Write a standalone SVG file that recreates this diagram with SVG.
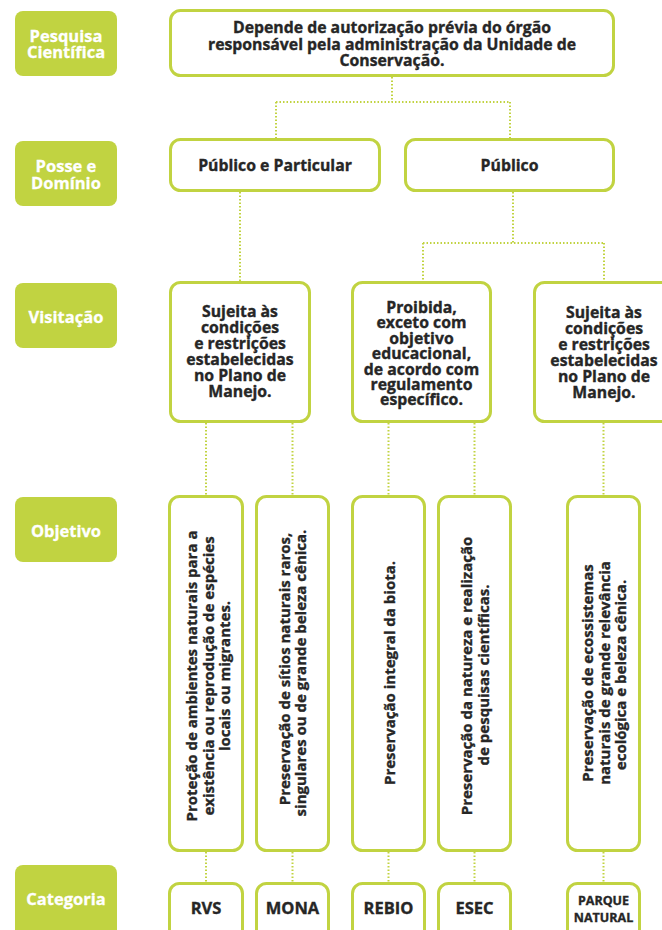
<svg xmlns="http://www.w3.org/2000/svg" width="662" height="930" viewBox="0 0 662 930">
<style>
.lab{fill:#c1d341}
.lt{font-family:"Open Sans","Liberation Sans",sans-serif;font-weight:700;font-size:16.5px;fill:#ffffff;stroke:#ffffff;stroke-width:0.3;text-anchor:middle}
.box{fill:#ffffff;stroke:#c1d341;stroke-width:3}
.t{font-family:"Open Sans","Liberation Sans",sans-serif;font-weight:700;font-size:15.8px;fill:#262626;stroke:#262626;stroke-width:0.35;text-anchor:middle}
.r{font-size:15px}
.c{font-size:16.5px}
.s{font-size:12.5px}
.con{fill:none;stroke:#c1d341;stroke-width:2;stroke-dasharray:1.5 2}
</style>
<rect width="662" height="930" fill="#ffffff"/>
<g id="labels">
<g id="lab-pesquisa"><rect class="lab" x="15" y="11" width="102" height="65" rx="8"/><text class="lt"><tspan x="66" y="41.5">Pesquisa</tspan><tspan x="66" y="57.5">Científica</tspan></text></g>
<g id="lab-posse"><rect class="lab" x="15" y="141" width="102" height="65" rx="8"/><text class="lt"><tspan x="66" y="171.5">Posse e</tspan><tspan x="66" y="188.5">Domínio</tspan></text></g>
<g id="lab-visitacao"><rect class="lab" x="15" y="283" width="102" height="65" rx="8"/><text class="lt" x="66" y="322.5">Visitação</text></g>
<g id="lab-objetivo"><rect class="lab" x="15" y="497" width="102" height="65" rx="8"/><text class="lt" x="66" y="536.5">Objetivo</text></g>
<g id="lab-categoria"><rect class="lab" x="15" y="865" width="102" height="75" rx="8"/><text class="lt" x="66" y="904.5">Categoria</text></g>
</g>
<g id="connectors">
<path class="con" d="M392 77V102M276 102H510M276 102V138M510 102V138"/>
<path class="con" d="M240 192V281"/>
<path class="con" d="M513 192V243M423 243H604M423 243V281M604 243V281"/>
<path class="con" d="M206 423V495M292.5 423V495M388.5 423V495M474.5 423V495M603.5 423V495"/>
<path class="con" d="M206 852V882M292.5 852V882M388.5 852V882M474.5 852V882M603.5 852V882"/>
</g>
<g id="n-pesquisa"><rect class="box" x="170.5" y="10.5" width="443" height="65" rx="10"/><text class="t"><tspan x="392" y="32.5">Depende de autorização prévia do órgão</tspan><tspan x="392" y="49.5">responsável pela administração da Unidade de</tspan><tspan x="392" y="66">Conservação.</tspan></text></g>
<g id="n-pp"><rect class="box" x="170.5" y="139.5" width="209" height="51" rx="10"/><text class="t" x="275" y="171">Público e Particular</text></g>
<g id="n-pub"><rect class="box" x="405.5" y="139.5" width="208" height="51" rx="10"/><text class="t" x="509.5" y="171">Público</text></g>
<g id="n-v1"><rect class="box" x="170.5" y="282.5" width="139" height="139" rx="10"/><text class="t"><tspan x="240" y="317">Sujeita às</tspan><tspan x="240" y="333">condições</tspan><tspan x="240" y="349">e restrições</tspan><tspan x="240" y="365">estabelecidas</tspan><tspan x="240" y="381">no Plano de</tspan><tspan x="240" y="397">Manejo.</tspan></text></g>
<g id="n-v2"><rect class="box" x="352.5" y="282.5" width="138" height="139" rx="10"/><text class="t"><tspan x="421.5" y="313">Proibida,</tspan><tspan x="421.5" y="328.4">exceto com</tspan><tspan x="421.5" y="343.8">objetivo</tspan><tspan x="421.5" y="359.2">educacional,</tspan><tspan x="421.5" y="374.6">de acordo com</tspan><tspan x="421.5" y="390">regulamento</tspan><tspan x="421.5" y="405.4">específico.</tspan></text></g>
<g id="n-v3"><rect class="box" x="534.5" y="282.5" width="139" height="139" rx="10"/><text class="t"><tspan x="604" y="318">Sujeita às</tspan><tspan x="604" y="334">condições</tspan><tspan x="604" y="350">e restrições</tspan><tspan x="604" y="366">estabelecidas</tspan><tspan x="604" y="382">no Plano de</tspan><tspan x="604" y="398">Manejo.</tspan></text></g>
<g id="n-o1"><rect class="box" x="169.5" y="496.5" width="73" height="354" rx="10"/><text class="t r" transform="rotate(-90)"><tspan x="-676" y="197">Proteção de ambientes naturais para a</tspan><tspan x="-676" y="213.5">existência ou reprodução de espécies</tspan><tspan x="-676" y="230">locais ou migrantes.</tspan></text></g>
<g id="n-o2"><rect class="box" x="256.5" y="496.5" width="72" height="354" rx="10"/><text class="t r" transform="rotate(-90)"><tspan x="-669" y="290">Preservação de sítios naturais raros,</tspan><tspan x="-673" y="306">singulares ou de grande beleza cênica.</tspan></text></g>
<g id="n-o3"><rect class="box" x="352.5" y="496.5" width="72" height="354" rx="10"/><text class="t r" transform="rotate(-90)" x="-673" y="395">Preservação integral da biota.</text></g>
<g id="n-o4"><rect class="box" x="438.5" y="496.5" width="72" height="354" rx="10"/><text class="t r" transform="rotate(-90)"><tspan x="-676" y="472">Preservação da natureza e realização</tspan><tspan x="-675" y="489">de pesquisas científicas.</tspan></text></g>
<g id="n-o5"><rect class="box" x="567.5" y="496.5" width="72" height="354" rx="10"/><text class="t r" transform="rotate(-90)"><tspan x="-673" y="593">Preservação de ecossistemas</tspan><tspan x="-673" y="609.5">naturais de grande relevância</tspan><tspan x="-675" y="626">ecológica e beleza cênica.</tspan></text></g>
<g id="n-c1"><rect class="box" x="169.5" y="883.5" width="73" height="60" rx="10"/><text class="t c" x="206" y="914">RVS</text></g>
<g id="n-c2"><rect class="box" x="256.5" y="883.5" width="72" height="60" rx="10"/><text class="t c" x="292.5" y="914">MONA</text></g>
<g id="n-c3"><rect class="box" x="352.5" y="883.5" width="72" height="60" rx="10"/><text class="t c" x="388.5" y="914">REBIO</text></g>
<g id="n-c4"><rect class="box" x="438.5" y="883.5" width="72" height="60" rx="10"/><text class="t c" x="474.5" y="914">ESEC</text></g>
<g id="n-c5"><rect class="box" x="567.5" y="883.5" width="72" height="60" rx="10"/><text class="t s"><tspan x="603.5" y="904.5">PARQUE</tspan><tspan x="603.5" y="921.5">NATURAL</tspan></text></g>
</svg>
